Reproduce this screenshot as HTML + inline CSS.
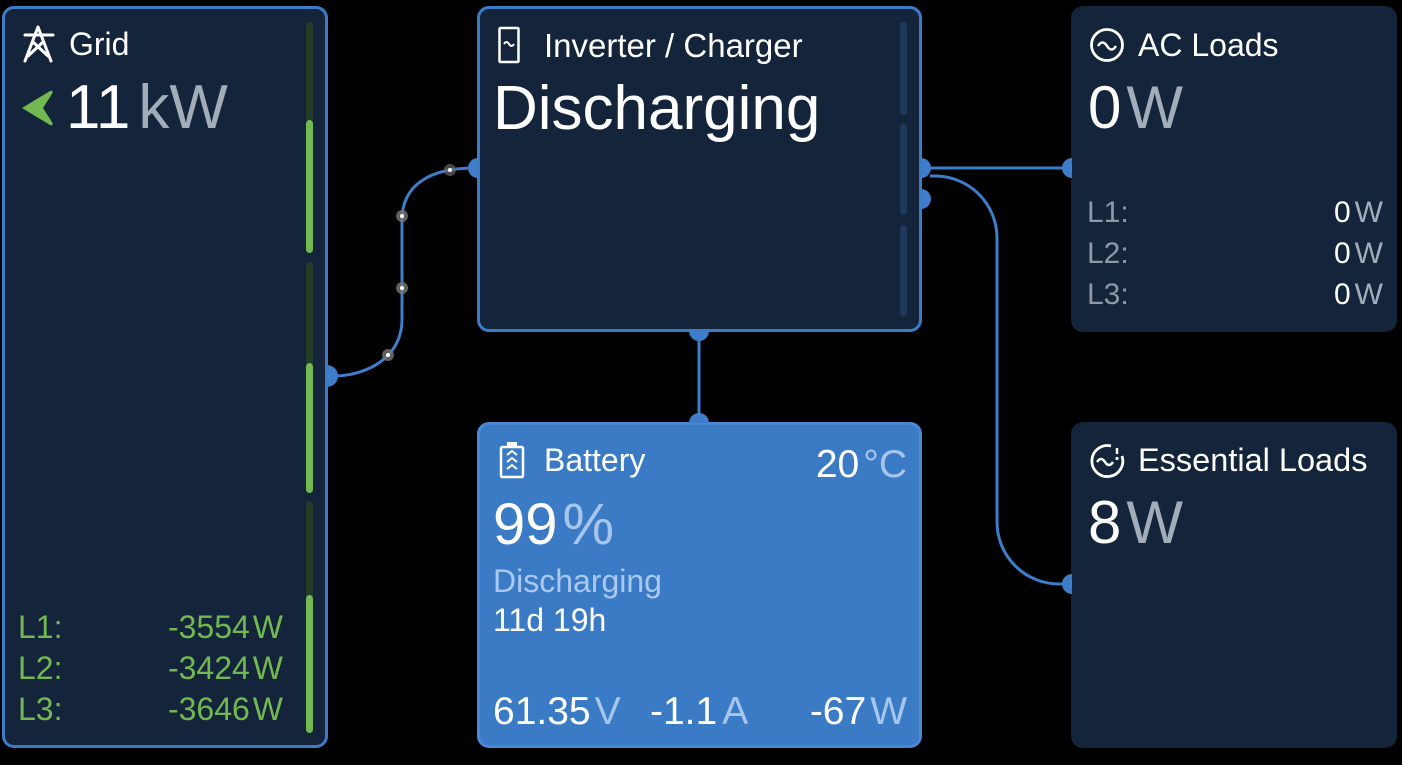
<!DOCTYPE html>
<html><head><meta charset="utf-8"><style>
*{margin:0;padding:0;box-sizing:border-box}
html,body{width:1402px;height:765px;background:#000;overflow:hidden}
body{position:relative;font-family:"Liberation Sans",sans-serif;color:#fff}
.card{position:absolute;border-radius:12px;background:#13243b}
.t{position:absolute;white-space:nowrap;line-height:1}
.u{color:#a3acb9}
.g{color:#73b850}
.bar{position:absolute;left:306px;width:7px;border-radius:4px}
.sb{position:absolute;left:900px;width:7px;border-radius:4px;background:#1d3a5c}
.r{text-align:right}
</style></head><body>

<!-- Grid -->
<div class="card" style="left:2px;top:6px;width:326px;height:742px;border:3px solid #3b7bc8"></div>
<div class="bar" style="top:22px;height:100px;background:#233a26"></div>
<div class="bar" style="top:120px;height:133px;background:#73b850"></div>
<div class="bar" style="top:262px;height:103px;background:#233a26"></div>
<div class="bar" style="top:363px;height:130px;background:#73b850"></div>
<div class="bar" style="top:501px;height:97px;background:#233a26"></div>
<div class="bar" style="top:595px;height:138px;background:#73b850"></div>
<div class="t" style="left:69px;top:28px;font-size:32px">Grid</div>
<div class="t" style="left:66px;top:77px;font-size:62px">11<span class="u" style="margin-left:8px">kW</span></div>
<div class="t g" style="left:18px;top:611px;font-size:32px">L1:</div>
<div class="t g" style="left:18px;top:652px;font-size:32px">L2:</div>
<div class="t g" style="left:18px;top:693px;font-size:32px">L3:</div>
<div class="t g r" style="left:100px;width:183px;top:611px;font-size:32px">-3554<span style="margin-left:3px">W</span></div>
<div class="t g r" style="left:100px;width:183px;top:652px;font-size:32px">-3424<span style="margin-left:3px">W</span></div>
<div class="t g r" style="left:100px;width:183px;top:693px;font-size:32px">-3646<span style="margin-left:3px">W</span></div>

<!-- Inverter -->
<div class="card" style="left:477px;top:6px;width:445px;height:326px;border:3px solid #3b7bc8"></div>
<div class="sb" style="top:22px;height:93px"></div>
<div class="sb" style="top:124px;height:91px"></div>
<div class="sb" style="top:225px;height:91px"></div>
<div class="t" style="left:544px;top:29px;font-size:33px">Inverter / Charger</div>
<div class="t" style="left:493px;top:78px;font-size:62px">Discharging</div>

<!-- AC Loads -->
<div class="card" style="left:1071px;top:6px;width:326px;height:326px"></div>
<div class="t" style="left:1138px;top:29px;font-size:32px">AC Loads</div>
<div class="t" style="left:1088px;top:78px;font-size:60px">0<span class="u" style="margin-left:5px">W</span></div>
<div class="t" style="left:1087px;top:198px;font-size:30px;color:#8e98a6">L1:</div>
<div class="t" style="left:1087px;top:239px;font-size:30px;color:#8e98a6">L2:</div>
<div class="t" style="left:1087px;top:280px;font-size:30px;color:#8e98a6">L3:</div>
<div class="t r" style="left:1200px;width:183px;top:198px;font-size:30px">0<span class="u" style="margin-left:4px">W</span></div>
<div class="t r" style="left:1200px;width:183px;top:239px;font-size:30px">0<span class="u" style="margin-left:4px">W</span></div>
<div class="t r" style="left:1200px;width:183px;top:280px;font-size:30px">0<span class="u" style="margin-left:4px">W</span></div>

<!-- Essential Loads -->
<div class="card" style="left:1071px;top:422px;width:326px;height:326px"></div>
<div class="t" style="left:1138px;top:444px;font-size:32.5px">Essential Loads</div>
<div class="t" style="left:1088px;top:493px;font-size:60px">8<span class="u" style="margin-left:5px">W</span></div>

<!-- Battery -->
<div class="card" style="left:477px;top:422px;width:445px;height:326px;background:#3b7bc5;border:3px solid #4a88d4"></div>
<div class="t" style="left:544px;top:444px;font-size:32px">Battery</div>
<div class="t r" style="left:700px;width:207px;top:445px;font-size:39px">20<span style="color:#a6c6ee;margin-left:4px">°C</span></div>
<div class="t" style="left:493px;top:496px;font-size:58px">99<span style="color:#a6c6ee;margin-left:5px">%</span></div>
<div class="t" style="left:493px;top:565px;font-size:32px;color:#a9c9f0">Discharging</div>
<div class="t" style="left:493px;top:604px;font-size:32px">11d 19h</div>
<div class="t" style="left:493px;top:692px;font-size:39px">61.35<span style="color:#a6c6ee;margin-left:4px">V</span></div>
<div class="t" style="left:650px;top:692px;font-size:39px">-1.1<span style="color:#a6c6ee;margin-left:5px">A</span></div>
<div class="t r" style="left:760px;width:147px;top:692px;font-size:39px">-67<span style="color:#a6c6ee;margin-left:4px">W</span></div>

<svg width="1402" height="765" style="position:absolute;left:0;top:0" xmlns="http://www.w3.org/2000/svg">
 <g fill="none" stroke="#3d7dca" stroke-width="3">
  <path d="M333,376 C370,376 402,355 402,320 L402,220 C402,185 430,168 474,168"/>
  <path d="M930,168 L1066,168"/>
  <path d="M930,176 L935,176 A62,62 0 0 1 997,238 L997,522 A62,62 0 0 0 1059,584 L1066,584"/>
  <path d="M699,333 L699,420"/>
 </g>
 <g fill="#3d7dca">
  <path d="M327,365 A11,11 0 0 1 327,387 Z"/>
  <path d="M478,158 A10,10 0 0 0 478,178 Z"/>
  <path d="M921,158 A10,10 0 0 1 921,178 Z"/>
  <path d="M921,189 A10,10 0 0 1 921,209 Z"/>
  <path d="M1072,158 A10,10 0 0 0 1072,178 Z"/>
  <path d="M1072,574 A10,10 0 0 0 1072,594 Z"/>
  <path d="M689,331 A10,10 0 0 0 709,331 Z"/>
  <path d="M689,423 A10,10 0 0 1 709,423 Z"/>
 </g>
 <!-- flow dots -->
 <g>
  <circle cx="450" cy="170" r="6" fill="#666" opacity="0.7"/>
  <circle cx="402" cy="216" r="6" fill="#777" opacity="0.8"/>
  <circle cx="402" cy="288" r="6" fill="#777" opacity="0.8"/>
  <circle cx="388" cy="355" r="6" fill="#777" opacity="0.8"/>
  <circle cx="450" cy="170" r="2" fill="#fff"/>
  <circle cx="402" cy="216" r="2" fill="#fff"/>
  <circle cx="402" cy="288" r="2" fill="#fff"/>
  <circle cx="388" cy="355" r="2" fill="#fff"/>
 </g>
 <!-- Grid pylon icon -->
 <g stroke="#fff" stroke-width="3" fill="none" stroke-linecap="round" stroke-linejoin="round">
  <path d="M25,35 L53,35"/>
  <path d="M38,27 L25,61 M38,27 L51,61"/>
  <path d="M33,42 L48,56 M43,42 L28,56"/>
 </g>
 <!-- green arrow -->
 <path d="M22,108 L50,91 Q54,90 52,94 L43,108 L52,122 Q54,126 50,125 Z" fill="#73b850"/>
 <!-- Inverter icon -->
 <g stroke="#fff" stroke-width="2.5" fill="none">
  <rect x="499.5" y="28" width="19" height="34" rx="1"/>
  <path d="M504,44 q2.5,-4 5,0 t5,0" stroke-width="2"/>
 </g>
 <!-- AC loads icon -->
 <g stroke="#fff" stroke-width="2.8" fill="none">
  <circle cx="1107" cy="45" r="15.5"/>
  <path d="M1098,46 q4.5,-7 9,0 t9,0" stroke-width="2.5"/>
 </g>
 <!-- Essential loads icon -->
 <g stroke="#fff" stroke-width="2.8" fill="none">
  <path d="M1111,446 A15.5,15.5 0 1 0 1122,456"/>
  <path d="M1097,462 q4,-6 8,0 t8,0" stroke-width="2.5"/>
  <path d="M1117,448 L1117,454" stroke-width="2.5"/>
 </g>
 <circle cx="1117" cy="458.5" r="1.6" fill="#fff"/>
 <!-- Battery icon -->
 <g stroke="#fff" stroke-width="2.5" fill="none">
  <rect x="501" y="447" width="22" height="30" rx="1.5"/>
  <path d="M507,455 l5,-4 l5,4 M507,462 l5,-4 l5,4 M507,469 l5,-4 l5,4" stroke-width="2"/>
 </g>
 <rect x="507" y="442" width="10" height="4" fill="#fff"/>
</svg>
</body></html>
